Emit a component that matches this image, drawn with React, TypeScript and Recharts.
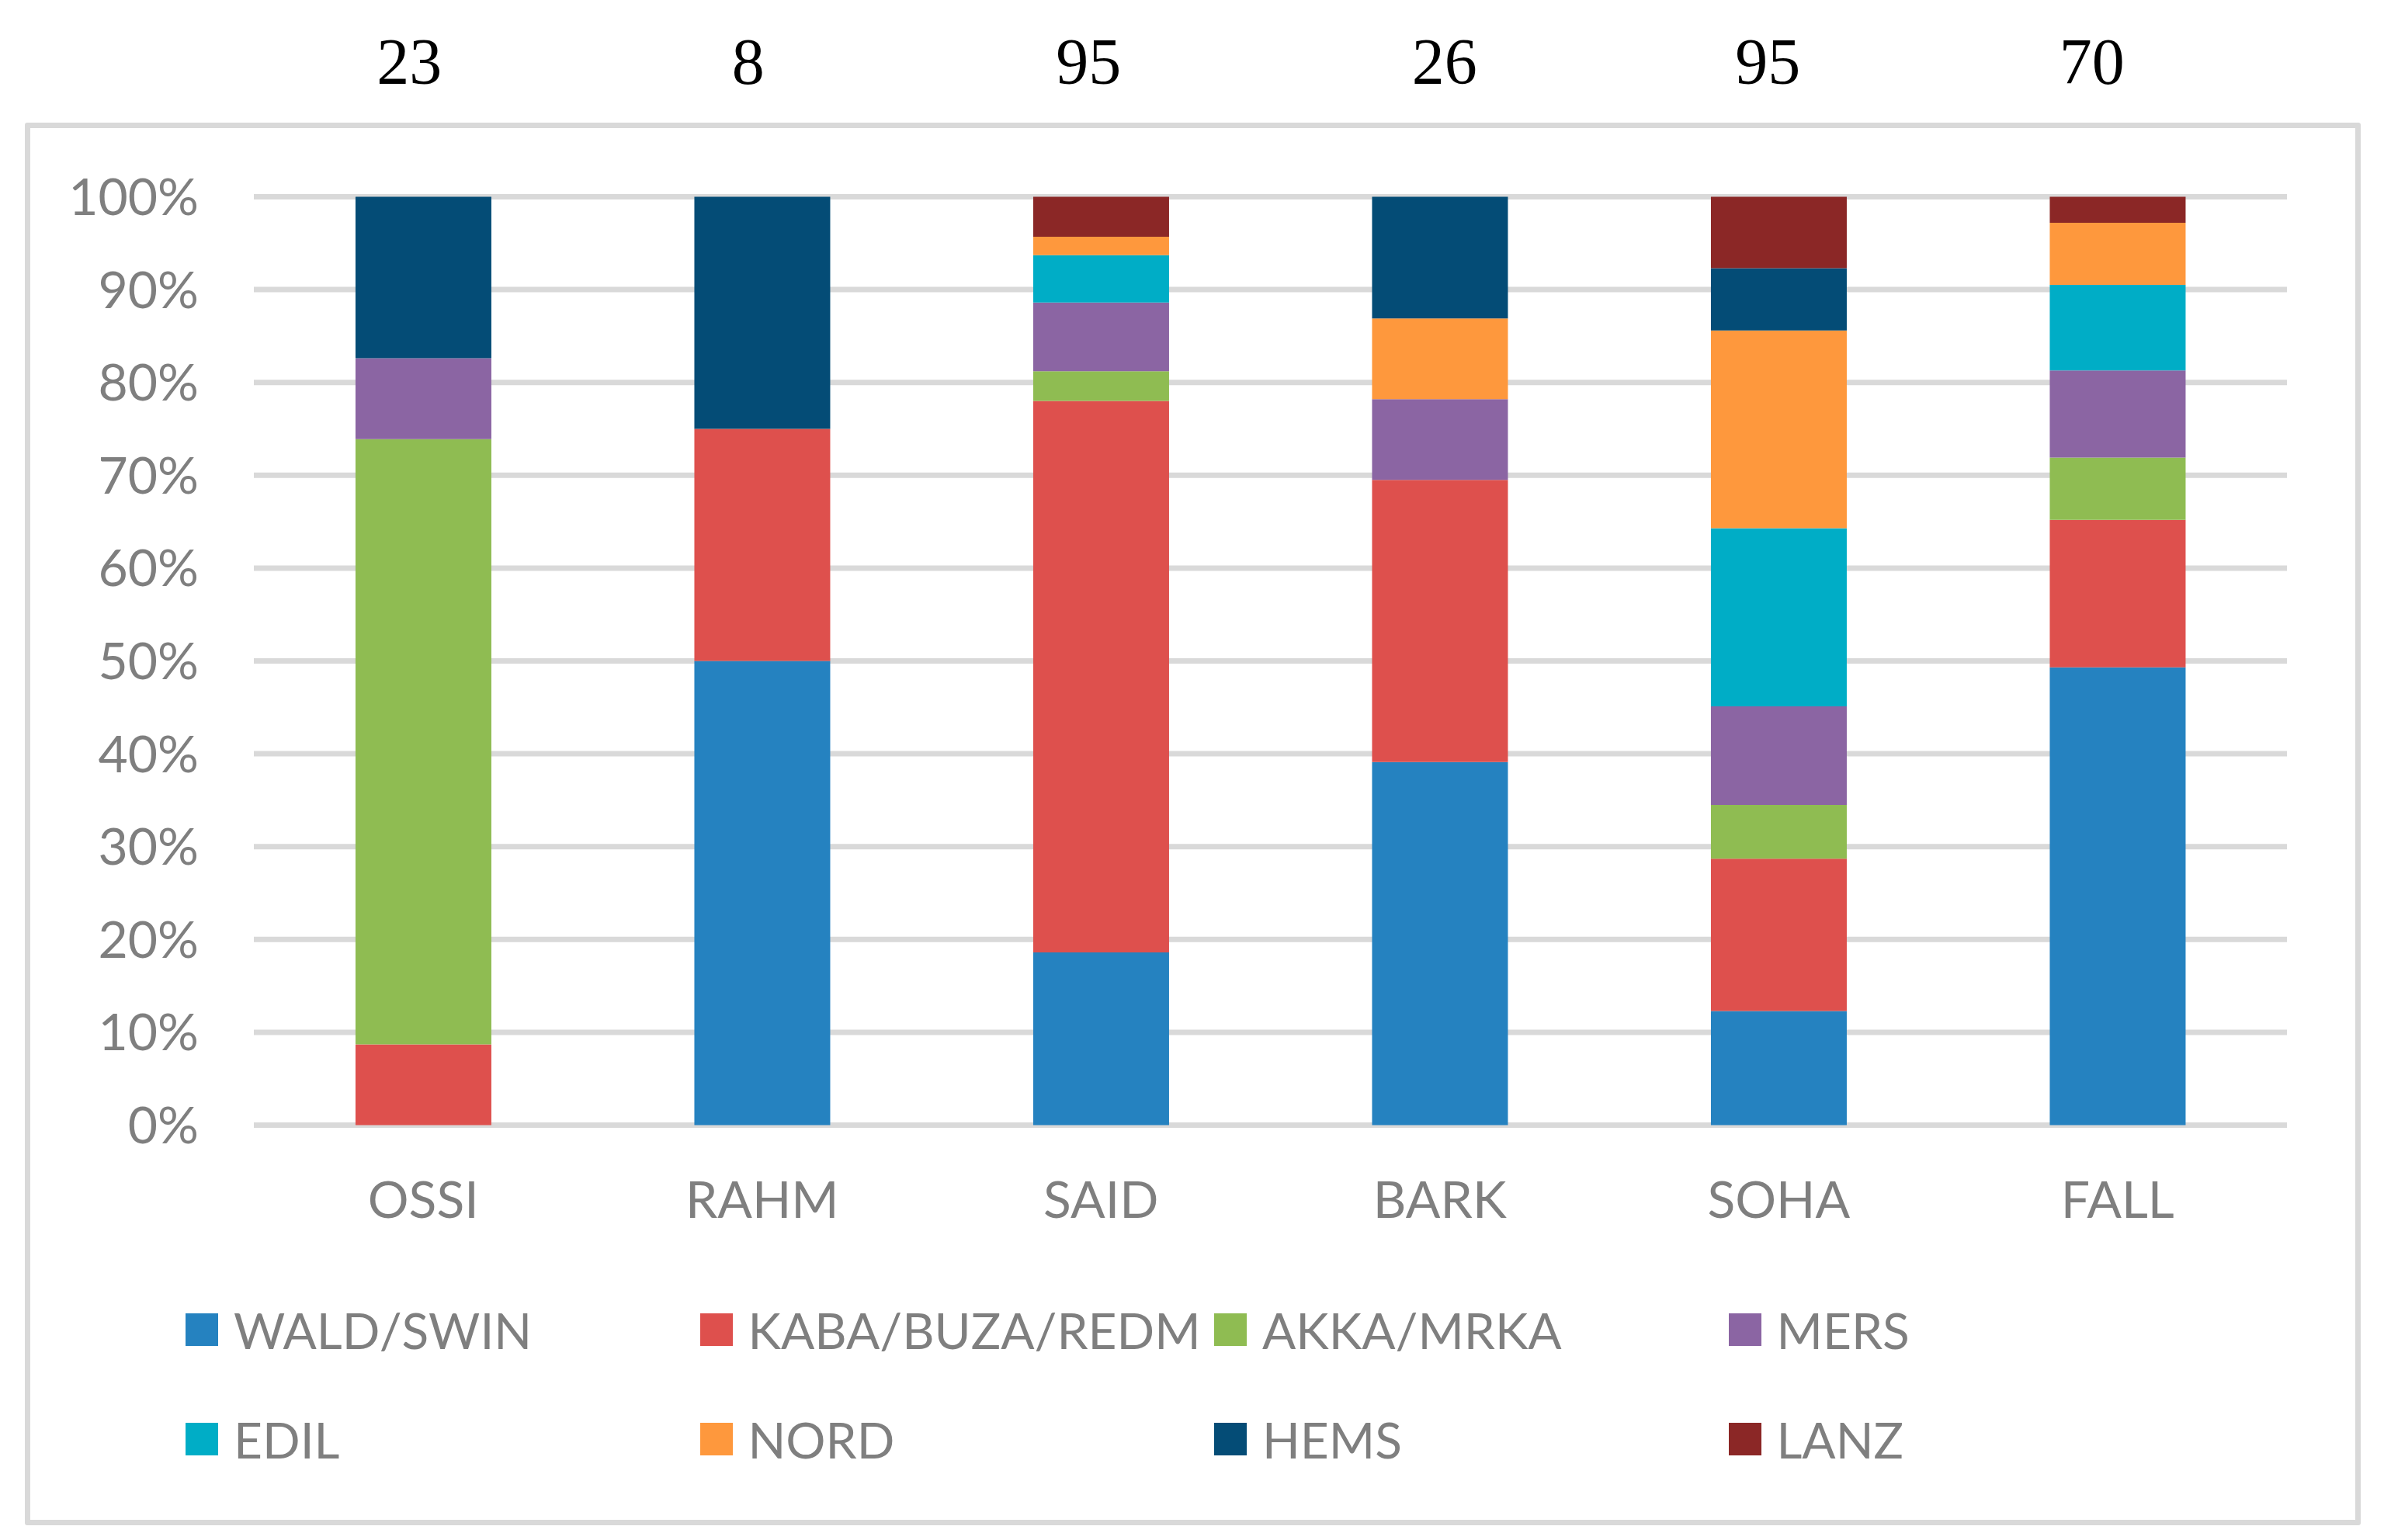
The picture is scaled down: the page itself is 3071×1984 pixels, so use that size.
import { BarChart, Bar, XAxis, YAxis, CartesianGrid, Legend } from 'recharts';

// full-bleed page so chart coordinates match the picture
document.body.style.margin = '0';

const sites = ['OSSI', 'RAHM', 'SAID', 'BARK', 'SOHA', 'FALL'];
const sampleSizes = [23, 8, 95, 26, 95, 70];

// share of each group per site, in percent
const waldSwin = [0, 50, 18.6, 39.1, 12.3, 49.3];
const kabaBuzaRedm = [8.7, 25, 59.4, 30.4, 16.4, 15.9];
const akkaMrka = [65.2, 0, 3.2, 0, 5.8, 6.7];
const mers = [8.7, 0, 7.4, 8.7, 10.6, 9.4];
const edil = [0, 0, 5.1, 0, 19.2, 9.2];
const nord = [0, 0, 2.0, 8.7, 21.3, 6.7];
const hems = [17.4, 25, 0, 13.1, 6.7, 0];
const lanz = [0, 0, 4.3, 0, 7.7, 2.8];

const yTicks = [0, 0.1, 0.2, 0.3, 0.4, 0.5, 0.6, 0.7, 0.8, 0.9, 1];

// the n labels above the box are hand-placed text boxes, not exactly centred
const nLabelShift = [-18, -18, -16, 6, -14, -33];

const series = [
  { key: 'WALD/SWIN', values: waldSwin, color: '#2582C0' },
  { key: 'KABA/BUZA/REDM', values: kabaBuzaRedm, color: '#DE504D' },
  { key: 'AKKA/MRKA', values: akkaMrka, color: '#8FBC52' },
  { key: 'MERS', values: mers, color: '#8B65A3' },
  { key: 'EDIL', values: edil, color: '#00ADC6' },
  { key: 'NORD', values: nord, color: '#FE983D' },
  { key: 'HEMS', values: hems, color: '#044C76' },
  { key: 'LANZ', values: lanz, color: '#8B2726' },
];

const data = sites.map((site, i) => {
  const row: Record<string, string | number> = { site, n: sampleSizes[i] };
  series.forEach((s) => {
    row[s.key] = s.values[i];
  });
  return row;
});

const gray = '#7F7F7F';
const sans = 'Lato, "Open Sans", sans-serif';
const serif = '"Liberation Serif", "Times New Roman", serif';

function CountTick(props: any) {
  const { x, y, index } = props;
  return (
    <text
      x={x + (nLabelShift[index] ?? 0)}
      y={y}
      textAnchor="middle"
      fill="#000"
      fontSize={84}
      fontFamily={serif}
    >
      {sampleSizes[index]}
    </text>
  );
}

function LegendGrid() {
  return (
    <div
      style={{
        display: 'grid',
        gridTemplateColumns: 'repeat(4, 662.5px)',
        gridAutoRows: '141px',
      }}
    >
      {series.map((s) => (
        <div key={s.key} style={{ display: 'flex', alignItems: 'center' }}>
          <div
            style={{
              width: 42,
              height: 42,
              marginRight: 20,
              backgroundColor: s.color,
              flexShrink: 0,
            }}
          />
          <span
            style={{
              color: gray,
              fontFamily: sans,
              fontSize: 64,
              whiteSpace: 'nowrap',
            }}
          >
            {s.key}
          </span>
        </div>
      ))}
    </div>
  );
}

export default function App() {
  return (
    <div
      style={{
        position: 'relative',
        width: 3071,
        height: 1984,
        background: '#fff',
        overflow: 'hidden',
      }}
    >
      <div
        style={{
          position: 'absolute',
          left: 32,
          top: 158,
          width: 3009,
          height: 1807,
          border: '7px solid #D9D9D9',
          borderRadius: 3,
          boxSizing: 'border-box',
        }}
      />
      <BarChart
        width={3071}
        height={1984}
        data={data}
        stackOffset="expand"
        barCategoryGap="30%"
        margin={{ top: 0, right: 125, bottom: 384.5, left: 0 }}
        style={{ position: 'absolute', left: 0, top: 0 }}
      >
        <CartesianGrid vertical={false} stroke="#D9D9D9" strokeWidth={7} />
        <XAxis
          dataKey="site"
          height={150}
          axisLine={false}
          tickLine={false}
          tickSize={0}
          tickMargin={72.5}
          tick={{ fill: gray, fontSize: 66, fontFamily: sans }}
        />
        <XAxis
          xAxisId="top"
          orientation="top"
          dataKey="site"
          height={253.5}
          axisLine={false}
          tickLine={false}
          tickSize={0}
          tickMargin={146}
          tick={<CountTick />}
        />
        <YAxis
          width={327}
          domain={[0, 1]}
          ticks={yTicks}
          axisLine={false}
          tickLine={false}
          tickSize={0}
          tickMargin={71}
          tickFormatter={(v) => `${Math.round(v * 100)}%`}
          tick={{ fill: gray, fontSize: 66, fontFamily: sans }}
        />
        <Legend
          verticalAlign="middle"
          align="center"
          content={() => <LegendGrid />}
          wrapperStyle={{ top: 1642.5, left: 239, width: 2700 }}
        />
        {series.map((s) => (
          <Bar
            key={s.key}
            dataKey={s.key}
            stackId="a"
            fill={s.color}
            isAnimationActive={false}
          />
        ))}
      </BarChart>
    </div>
  );
}
